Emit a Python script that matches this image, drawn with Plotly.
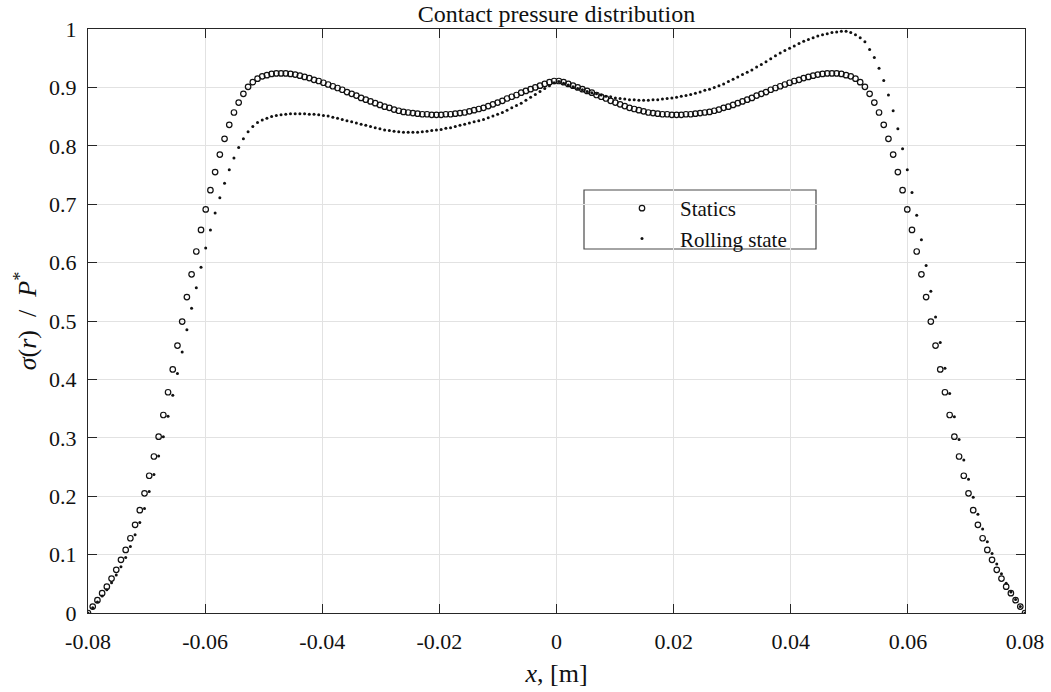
import numpy as np
import plotly.graph_objects as go

# Sample positions along the contact patch, metres
N_POINTS = 200
x_m = np.linspace(-0.08, 0.08, N_POINTS)

# Normalised contact pressure sigma(r)/P*, static case
statics = [
    0.000, 0.011, 0.022, 0.034, 0.045, 0.059, 0.074, 0.091, 0.108, 0.128,
    0.151, 0.176, 0.205, 0.235, 0.268, 0.302, 0.339, 0.378, 0.417, 0.458,
    0.499, 0.541, 0.580, 0.619, 0.656, 0.691, 0.724, 0.755, 0.785, 0.812,
    0.836, 0.857, 0.874, 0.889, 0.901, 0.909, 0.915, 0.919, 0.921, 0.923,
    0.924, 0.924, 0.924, 0.923, 0.922, 0.920, 0.918, 0.916, 0.913, 0.911,
    0.908, 0.905, 0.902, 0.899, 0.896, 0.892, 0.889, 0.886, 0.882, 0.879,
    0.876, 0.873, 0.870, 0.867, 0.865, 0.862, 0.860, 0.858, 0.857, 0.856,
    0.855, 0.854, 0.854, 0.853, 0.853, 0.853, 0.854, 0.854, 0.855, 0.856,
    0.857, 0.859, 0.861, 0.863, 0.865, 0.868, 0.871, 0.874, 0.877, 0.881,
    0.884, 0.887, 0.891, 0.894, 0.897, 0.900, 0.903, 0.906, 0.909, 0.911,
    0.911, 0.909, 0.906, 0.903, 0.900, 0.897, 0.894, 0.891, 0.887, 0.884,
    0.881, 0.877, 0.874, 0.871, 0.868, 0.865, 0.863, 0.861, 0.859, 0.857,
    0.856, 0.855, 0.854, 0.854, 0.853, 0.853, 0.853, 0.854, 0.854, 0.855,
    0.856, 0.857, 0.858, 0.860, 0.862, 0.865, 0.867, 0.870, 0.873, 0.876,
    0.879, 0.882, 0.886, 0.889, 0.892, 0.896, 0.899, 0.902, 0.905, 0.908,
    0.911, 0.913, 0.916, 0.918, 0.920, 0.922, 0.923, 0.924, 0.924, 0.924,
    0.923, 0.921, 0.919, 0.915, 0.909, 0.901, 0.889, 0.874, 0.857, 0.836,
    0.812, 0.785, 0.755, 0.724, 0.691, 0.656, 0.619, 0.580, 0.541, 0.499,
    0.458, 0.417, 0.378, 0.339, 0.302, 0.268, 0.235, 0.205, 0.176, 0.151,
    0.128, 0.108, 0.091, 0.074, 0.059, 0.045, 0.034, 0.022, 0.011, 0.000,
]

# Normalised contact pressure sigma(r)/P*, rolling case
rolling = [
    0.000, 0.009, 0.019, 0.029, 0.040, 0.052, 0.065, 0.079, 0.095, 0.114,
    0.134, 0.155, 0.179, 0.208, 0.237, 0.269, 0.302, 0.337, 0.373, 0.410,
    0.447, 0.485, 0.522, 0.557, 0.592, 0.625, 0.656, 0.685, 0.711, 0.736,
    0.759, 0.779, 0.797, 0.812, 0.824, 0.833, 0.840, 0.844, 0.847, 0.850,
    0.852, 0.853, 0.854, 0.855, 0.855, 0.855, 0.855, 0.854, 0.854, 0.853,
    0.852, 0.851, 0.849, 0.847, 0.845, 0.843, 0.841, 0.839, 0.837, 0.835,
    0.833, 0.831, 0.829, 0.827, 0.826, 0.825, 0.824, 0.823, 0.823, 0.823,
    0.823, 0.824, 0.825, 0.826, 0.827, 0.828, 0.830, 0.831, 0.833, 0.835,
    0.837, 0.839, 0.841, 0.843, 0.845, 0.848, 0.851, 0.854, 0.857, 0.861,
    0.865, 0.869, 0.873, 0.878, 0.883, 0.888, 0.893, 0.898, 0.903, 0.908,
    0.910, 0.907, 0.904, 0.901, 0.898, 0.896, 0.893, 0.891, 0.889, 0.887,
    0.885, 0.884, 0.882, 0.881, 0.880, 0.879, 0.879, 0.878, 0.878, 0.878,
    0.879, 0.879, 0.880, 0.881, 0.882, 0.883, 0.885, 0.886, 0.888, 0.890,
    0.892, 0.895, 0.897, 0.900, 0.903, 0.906, 0.910, 0.914, 0.918, 0.922,
    0.926, 0.930, 0.935, 0.939, 0.944, 0.949, 0.954, 0.959, 0.963, 0.967,
    0.971, 0.975, 0.979, 0.982, 0.985, 0.988, 0.990, 0.992, 0.994, 0.995,
    0.996, 0.996, 0.994, 0.990, 0.985, 0.978, 0.965, 0.951, 0.933, 0.912,
    0.887, 0.860, 0.829, 0.795, 0.759, 0.720, 0.681, 0.639, 0.595, 0.551,
    0.507, 0.463, 0.419, 0.376, 0.336, 0.297, 0.262, 0.229, 0.198, 0.169,
    0.144, 0.122, 0.102, 0.084, 0.067, 0.051, 0.036, 0.023, 0.011, 0.000,
]

x_tick_vals = [-0.08, -0.06, -0.04, -0.02, 0, 0.02, 0.04, 0.06, 0.08]
x_tick_text = ["-0.08", "-0.06", "-0.04", "-0.02", "0", "0.02", "0.04", "0.06", "0.08"]
y_tick_vals = [0, 0.1, 0.2, 0.3, 0.4, 0.5, 0.6, 0.7, 0.8, 0.9, 1]
y_tick_text = ["0", "0.1", "0.2", "0.3", "0.4", "0.5", "0.6", "0.7", "0.8", "0.9", "1"]

SERIF = "Liberation Serif, Times New Roman, serif"
INK = "#111111"
AXIS = "#262626"
GRID = "#e2e2e2"

fig = go.Figure()
fig.add_trace(go.Scatter(
    x=x_m, y=statics, mode="markers", name="Statics",
    marker=dict(symbol="circle-open", size=5.5, color=INK, line=dict(width=1.2, color=INK)),
))
fig.add_trace(go.Scatter(
    x=x_m, y=rolling, mode="markers", name="Rolling state",
    marker=dict(symbol="circle", size=3, color=INK, line=dict(width=0)),
))

axis_common = dict(
    showgrid=True, gridcolor=GRID, gridwidth=1,
    showline=True, linecolor=AXIS, linewidth=1, mirror="ticks",
    ticks="inside", ticklen=9, tickwidth=1, tickcolor=AXIS,
    zeroline=False, automargin=False,
    tickfont=dict(family=SERIF, size=22, color=INK),
)

fig.update_layout(
    width=1051, height=692,
    margin=dict(l=88, r=26, t=29, b=79),
    paper_bgcolor="white", plot_bgcolor="white",
    title=dict(
        text="Contact pressure distribution",
        font=dict(family=SERIF, size=24, color=INK),
        x=0.5, xref="paper", xanchor="center",
        y=1, yref="paper", yanchor="bottom", pad=dict(b=7),
    ),
    xaxis=dict(
        axis_common, range=[-0.08, 0.08],
        tickvals=x_tick_vals, ticktext=x_tick_text,
        ticklabelstandoff=9,
        title=dict(text="<i>x</i>, [m]", font=dict(family=SERIF, size=26, color=INK), standoff=10),
    ),
    yaxis=dict(
        axis_common, range=[0, 1],
        tickvals=y_tick_vals, ticktext=y_tick_text,
        ticklabelstandoff=6,
        title=dict(
            text="<i>σ</i>(<i>r</i>)&nbsp;&nbsp;/&nbsp;&nbsp;<i>P</i><sup>*</sup>",
            font=dict(family=SERIF, size=26, color=INK), standoff=4,
        ),
    ),
    showlegend=True,
    legend=dict(
        x=(604 - 88) / 937, y=(613 - 188) / 584, xanchor="left", yanchor="top",
        bgcolor="rgba(0,0,0,0)", borderwidth=0,
        font=dict(family=SERIF, size=21, color=INK),
        itemwidth=66,
    ),
    shapes=[dict(
        type="rect", xref="paper", yref="paper",
        x0=(584 - 88) / 937, x1=(816 - 88) / 937,
        y0=(613 - 249) / 584, y1=(613 - 190) / 584,
        line=dict(color="#4a4a4a", width=1.2), fillcolor="white", layer="below",
    )],
)

fig.write_html("out.html")
